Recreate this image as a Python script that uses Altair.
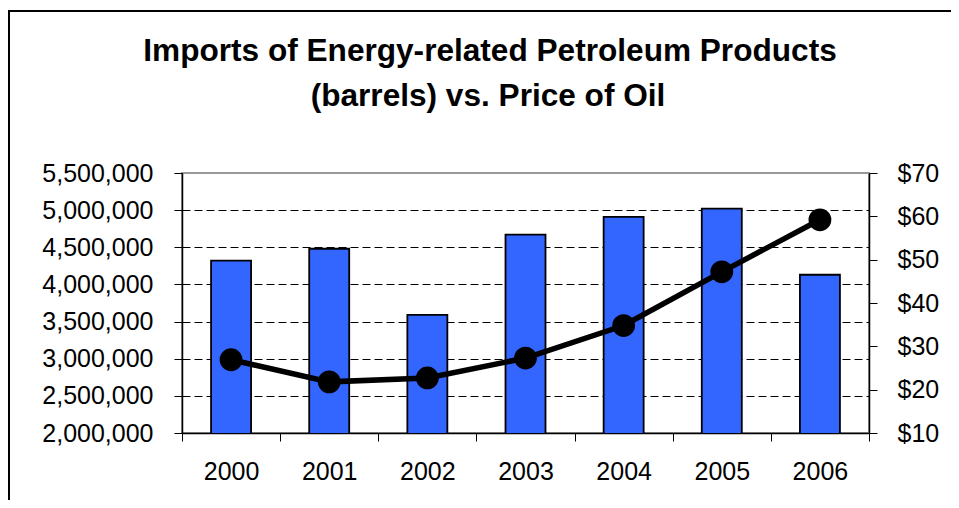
import altair as alt
import pandas as pd

years = ["2000", "2001", "2002", "2003", "2004", "2005", "2006"]
imports_bbl = [4320000, 4480000, 3590000, 4670000, 4910000, 5020000, 4130000]
oil_price = [26.9, 21.8, 22.7, 27.3, 34.8, 47.2, 59.2]
left_ticks = [2000000, 2500000, 3000000, 3500000, 4000000, 4500000, 5000000, 5500000]
right_ticks = [10, 20, 30, 40, 50, 60, 70]
title_lines = ["Imports of Energy-related Petroleum Products", "(barrels) vs. Price of Oil"]

df = pd.DataFrame({"year": years, "imports": imports_bbl, "price": oil_price})

FONT = "Arial, Liberation Sans, sans-serif"

xenc = alt.X(
    "year:N",
    scale=alt.Scale(paddingInner=0, paddingOuter=0),
    axis=alt.Axis(
        title=None, labelAngle=0, tickBand="extent", tickSize=8,
        labelPadding=18, domainColor="black", tickColor="black",
        domainWidth=1.5, grid=False,
    ),
)

bars = alt.Chart(df).mark_bar(
    size=40, color="#3366FF", stroke="black", strokeWidth=1.8, clip=True
).encode(
    x=xenc,
    y=alt.Y(
        "imports:Q",
        scale=alt.Scale(domain=[2000000, 5500000], nice=False, zero=False),
        axis=alt.Axis(
            title=None, orient="left", values=left_ticks, format=",d",
            tickSize=8, labelPadding=21, grid=True, gridDash=[8, 4],
            gridColor="black", gridWidth=1,
            gridOpacity=alt.condition(
                "datum.value >= 5500000 || datum.value <= 2000000",
                alt.value(0), alt.value(1)
            ),
            domainColor="black", tickColor="black", domainWidth=1.5,
        ),
    ),
)

yr = alt.Y(
    "price:Q",
    scale=alt.Scale(domain=[10, 70], nice=False, zero=False),
    axis=alt.Axis(
        title=None, orient="right", values=right_ticks, format="$,.0f",
        tickSize=8, labelPadding=20, grid=False,
        domainColor="black", tickColor="black", domainWidth=1.5,
    ),
)

line = alt.Chart(df).mark_line(color="black", strokeWidth=5.5).encode(x=xenc, y=yr)
points = alt.Chart(df).mark_point(
    filled=True, color="black", size=520, opacity=1, shape="circle"
).encode(x=xenc, y=yr)

border = alt.Chart(df).mark_rect(
    fill=None, stroke="black", strokeWidth=2, clip=False
).encode(
    x=alt.value(-173.5), x2=alt.value(1500),
    y=alt.value(-162), y2=alt.value(1000),
)

tdf = pd.DataFrame({"line": title_lines, "row": [0, 1]})
title1 = alt.Chart(tdf).transform_filter("datum.row == 0").mark_text(
    font=FONT, fontSize=31.6, fontWeight="bold", color="black",
    align="center", baseline="alphabetic",
).encode(text="line:N", x=alt.value(308), y=alt.value(-112))
title2 = alt.Chart(tdf).transform_filter("datum.row == 1").mark_text(
    font=FONT, fontSize=31.6, fontWeight="bold", color="black",
    align="center", baseline="alphabetic",
).encode(text="line:N", x=alt.value(306), y=alt.value(-67))

chart = alt.layer(
    bars, alt.layer(line, points), border, title1, title2
).resolve_scale(y="independent").properties(
    width=687,
    height=260,
    background="white",
    padding={"left": 174, "top": 165, "right": 82, "bottom": 67},
    autosize=alt.AutoSizeParams(type="none"),
).configure_axis(
    labelFont=FONT, labelFontSize=25, labelColor="black",
).configure_view(
    stroke="#999999", strokeWidth=2
)

chart.save("out.html", embed_options={"renderer": "svg", "actions": False})
